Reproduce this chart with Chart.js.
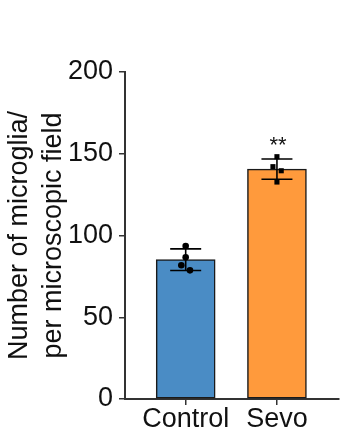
<!DOCTYPE html>
<html>
<head>
<meta charset="utf-8">
<script src="https://cdn.jsdelivr.net/npm/chart.js@4/dist/chart.umd.min.js"></script>
<style>
  html, body { margin: 0; padding: 0; background: #ffffff; }
  #wrap { width: 359px; height: 446px; position: relative; }
</style>
</head>
<body>
<div id="wrap"><canvas id="c" width="359" height="446"></canvas></div>
<script>
// ---- data ----
const categories = ['Control', 'Sevo'];
const means = [85.2, 140.6];
const sds = [6.6, 6.2];
const controlPoints = [93.6, 86.7, 81.8, 78.7];
const controlJitter = [0, 0, -0.048, 0.047];
const sevoPoints = [148.2, 142.1, 139.6, 132.7];
const sevoJitter = [0, -0.044, 0.047, 0];
const significance = ['', '**'];
const yTicks = [0, 50, 100, 150, 200];

const FONT = "'Liberation Sans', Arial, Helvetica, sans-serif";
const barColors = ['#4a8cc5', '#ff9a3c'];

const barData = categories.map((c, i) => ({ x: i + 1, y: means[i] }));
const ctrlData = controlPoints.map((v, i) => ({ x: 1 + controlJitter[i], y: v }));
const sevoData = sevoPoints.map((v, i) => ({ x: 2 + sevoJitter[i], y: v }));

const errorBarPlugin = {
  id: 'errorBars',
  afterDatasetsDraw(chart) {
    const { ctx, scales: { x, y } } = chart;
    ctx.save();
    ctx.strokeStyle = '#000';
    ctx.lineWidth = 1.6;
    means.forEach((m, i) => {
      const cx = x.getPixelForValue(i + 1);
      const hi = y.getPixelForValue(m + sds[i]);
      const lo = y.getPixelForValue(m - sds[i]);
      const half = 15.5;
      ctx.beginPath();
      ctx.moveTo(cx, hi); ctx.lineTo(cx, lo);
      ctx.moveTo(cx - half, hi); ctx.lineTo(cx + half, hi);
      ctx.moveTo(cx - half, lo); ctx.lineTo(cx + half, lo);
      ctx.stroke();
      if (significance[i]) {
        ctx.fillStyle = '#111';
        ctx.font = '22px ' + FONT;
        ctx.textAlign = 'center';
        ctx.textBaseline = 'middle';
        ctx.fillText(significance[i], cx + 1, hi - 13);
      }
    });
    ctx.restore();
  }
};

new Chart(document.getElementById('c'), {
  type: 'bar',
  data: {
    datasets: [
      {
        type: 'scatter',
        data: ctrlData,
        pointStyle: 'circle',
        pointRadius: 3.3,
        backgroundColor: '#000',
        borderColor: '#000',
        borderWidth: 0,
        order: 0
      },
      {
        type: 'scatter',
        data: sevoData,
        pointStyle: 'rect',
        pointRadius: 3.6,
        backgroundColor: '#000',
        borderColor: '#000',
        borderWidth: 0,
        order: 0
      },
      {
        type: 'bar',
        data: barData,
        backgroundColor: barColors,
        borderColor: '#1a1a1a',
        borderWidth: 1.5,
        borderSkipped: false,
        barThickness: 59,
        order: 1
      }
    ]
  },
  options: {
    responsive: false,
    animation: false,
    devicePixelRatio: 1,
    layout: { padding: { top: 72, right: 20, left: 0, bottom: 0 } },
    plugins: { legend: { display: false }, tooltip: { enabled: false } },
    scales: {
      x: {
        type: 'linear',
        offset: false,
        min: 0.335,
        max: 2.68,
        bounds: 'data',
        afterBuildTicks: (s) => { s.ticks = categories.map((c, i) => ({ value: i + 1 })); },
        afterFit: (s) => { s.height = 47; },
        ticks: {
          callback: (v) => categories[Math.round(v) - 1] || '',
          font: { family: FONT, size: 27 },
          color: '#111',
          padding: -2,
          maxRotation: 0,
          autoSkip: false
        },
        grid: { display: true, offset: false, drawOnChartArea: false, drawTicks: true, tickLength: 6, color: '#333', lineWidth: 1.5 },
        border: { display: true, color: '#333', width: 2 }
      },
      y: {
        min: 0,
        max: 200,
        afterBuildTicks: (s) => { s.ticks = yTicks.map(v => ({ value: v })); },
        afterFit: (s) => { s.width = 125; },
        ticks: {
          font: { family: FONT, size: 27 },
          color: '#111',
          padding: 6
        },
        grid: { display: true, drawOnChartArea: false, drawTicks: true, tickLength: 6, color: '#333', lineWidth: 1.5 },
        border: { display: true, color: '#333', width: 2 },
        title: {
          display: true,
          text: ['Number of microglia/', 'per microscopic field'],
          font: { family: FONT, size: 27, lineHeight: 1.27 },
          color: '#111',
          padding: { top: 2, bottom: 0 }
        }
      }
    }
  },
  plugins: [errorBarPlugin]
});
</script>
</body>
</html>
